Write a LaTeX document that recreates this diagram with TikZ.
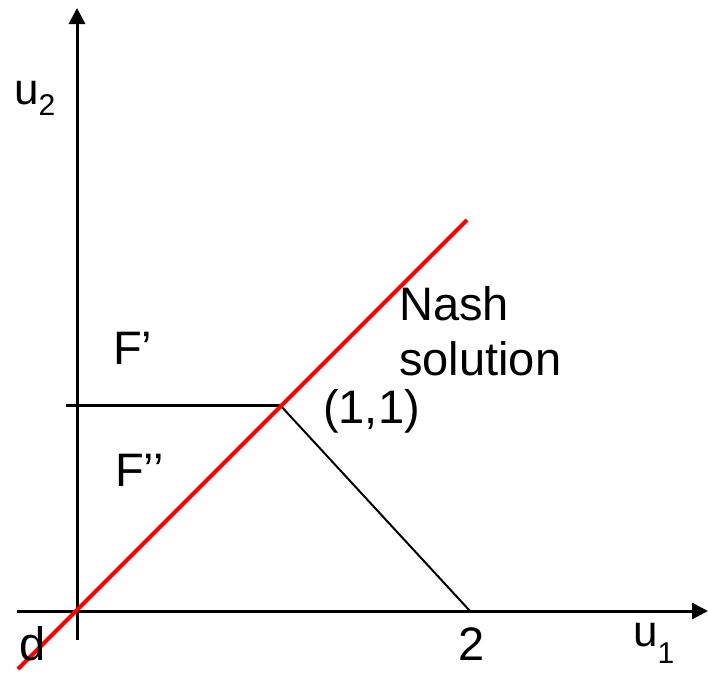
\documentclass[tikz,border=0pt]{standalone}
\usepackage{fontspec}
\setmainfont{Liberation Sans}
\usetikzlibrary{arrows.meta}
\tikzset{
  axis/.style={line width=3pt,-{Triangle[length=16pt,width=16pt]}},
  lbl/.style={anchor=base west,inner sep=0pt,font=\fontsize{47}{55}\selectfont},
  ulbl/.style={anchor=base west,inner sep=0pt,font=\fontsize{44}{48}\selectfont},
}
\newcommand{\subn}[2]{\raisebox{-#1pt}{\fontsize{30}{30}\selectfont #2}}
\begin{document}
\begin{tikzpicture}[x=1pt,y=-1pt]
\useasboundingbox (0,0) rectangle (708,673);
\coordinate (ybot) at (77,640);
\coordinate (ytop) at (77,8);
\coordinate (xleft) at (17,611);
\coordinate (xright) at (708,611);
\coordinate (rs) at (18,669);
\coordinate (re) at (467,220);
\coordinate (hl) at (66,405);
\coordinate (corner) at (280,405);
\coordinate (two) at (470,611);
\draw[axis] (ybot) -- (ytop);
\draw[axis] (xleft) -- (xright);
\draw[line width=3pt] (hl) -- (corner);
\draw[line width=2pt] (corner) -- (two);
\draw[line width=4pt,red] (rs) -- (re);
\node[ulbl] (u2) at (14,104) {u\subn{11}{2}};
\node[ulbl] (u1) at (633,646) {u\subn{17}{1}};
\node[lbl] (fp) at (113,364) {F’};
\node[lbl] (fpp) at (115,486) {F’’};
\node[lbl] (nash) at (399,320) {Nash};
\node[lbl] (sol) at (399,375) {solution};
\node[lbl] (oneone) at (323,423) {(1,1)};
\node[lbl] (d) at (19,660) {d};
\node[lbl] (ltwo) at (458,660) {2};
\end{tikzpicture}
\end{document}
